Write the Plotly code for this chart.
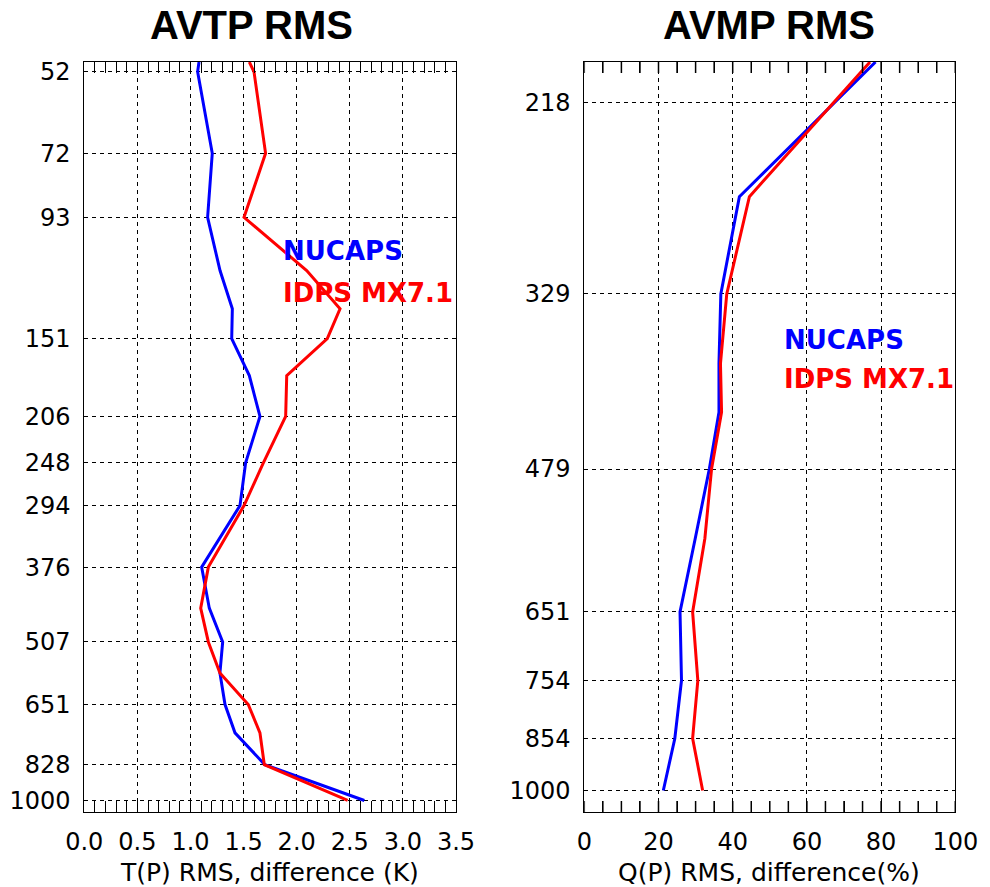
import plotly.graph_objects as go

# ---------------- data ----------------
# AVTP (temperature) panel
p_t = [50, 52, 72, 93, 115, 134, 151, 175, 206, 248, 294, 376, 443, 507, 574, 651, 729, 828, 955]
t_nucaps = [1.08, 1.067, 1.205, 1.161, 1.278, 1.394, 1.388, 1.554, 1.654, 1.519, 1.466,
            1.105, 1.177, 1.303, 1.277, 1.325, 1.419, 1.70, 2.637]
t_idps = [1.554, 1.598, 1.707, 1.504, 2.094, 2.408, 2.288, 1.906, 1.896, 1.686, 1.504,
          1.168, 1.096, 1.168, 1.277, 1.544, 1.654, 1.695, 2.48]
t_tickvals = [52, 72, 93, 151, 206, 248, 294, 376, 507, 651, 828, 955]
t_ticktext = ["52", "72", "93", "151", "206", "248", "294", "376", "507", "651", "828", "1000"]

# AVMP (moisture) panel
p_q = [200, 267, 329, 382, 424, 479, 556, 651, 754, 854, 955]
q_nucaps = [78.5, 41.8, 36.8, 36.3, 36.3, 33.7, 29.9, 25.8, 26.2, 24.4, 21.3]
q_idps = [77.0, 44.5, 38.4, 36.7, 37.0, 34.3, 32.5, 29.2, 30.6, 29.2, 31.9]
q_tickvals = [218, 329, 479, 651, 754, 854, 955]
q_ticktext = ["218", "329", "479", "651", "754", "854", "1000"]

titles = ["AVTP RMS", "AVMP RMS"]
xtitles = ["T(P) RMS, difference (K)", "Q(P) RMS, difference(%)"]
series_names = ["NUCAPS", "IDPS MX7.1"]

# ---------------- figure ----------------
W, H = 990, 887
BLUE, RED = "#0000ff", "#ff0000"
TICKFONT = dict(family="DejaVu Sans", size=24, color="black")
TICKLEN = 11
PLOT_TOP, PLOT_BOTTOM = 62, 812
T_RANGE = [3, 1.69897]
Q_RANGE = [3, 2.30103]


def px(x):
    return x / W


def py(y):
    return 1 - y / H


def tick_grid(rng, step, minor_step, fmt):
    n = int(round((rng[1] - rng[0]) / minor_step))
    vals = [rng[0] + i * minor_step for i in range(n + 1)]
    texts = []
    for v in vals:
        k = v / step
        texts.append(fmt.format(v) if abs(k - round(k)) < 1e-6 else "")
    return vals, texts


def frame_ticks(xvals, yrange):
    """Short tick segments at the top and bottom frame, in data units of a log y axis."""
    dec = (yrange[0] - yrange[1]) * TICKLEN / (PLOT_BOTTOM - PLOT_TOP)
    p_low, p_high = 10 ** yrange[0], 10 ** yrange[1]
    tx, ty = [], []
    for v in xvals:
        tx += [v, v, None, v, v, None]
        ty += [p_low, p_low / 10 ** dec, None, p_high, p_high * 10 ** dec, None]
    return tx, ty


fig = go.Figure()
fig.add_trace(go.Scatter(x=t_nucaps, y=p_t, mode="lines", line=dict(color=BLUE, width=3),
                         xaxis="x", yaxis="y", name=series_names[0]))
fig.add_trace(go.Scatter(x=t_idps, y=p_t, mode="lines", line=dict(color=RED, width=3),
                         xaxis="x", yaxis="y", name=series_names[1]))
fig.add_trace(go.Scatter(x=q_nucaps, y=p_q, mode="lines", line=dict(color=BLUE, width=3),
                         xaxis="x2", yaxis="y2", name=series_names[0]))
fig.add_trace(go.Scatter(x=q_idps, y=p_q, mode="lines", line=dict(color=RED, width=3),
                         xaxis="x2", yaxis="y2", name=series_names[1]))

# tick marks of the right panel frame, placed through the x2/y2 scales
q_minor_vals, _ = tick_grid([0, 100], 20, 5, "{:.0f}")
tx, ty = frame_ticks(q_minor_vals, Q_RANGE)
fig.add_trace(go.Scatter(x=tx, y=ty, mode="lines", line=dict(color="black", width=1.5),
                         xaxis="x2", yaxis="y2", hoverinfo="skip", showlegend=False,
                         connectgaps=False))

ydom = [py(PLOT_BOTTOM), py(PLOT_TOP)]
xdom1 = [px(84.3), px(456)]
xdom2 = [px(584.3), px(955.3)]


def xaxis_cfg(dom, rng, step, minor_step, anchor, fmt):
    # tick marks at every minor step, labels and dashed grid only at the major steps
    vals, texts = tick_grid(rng, step, minor_step, fmt)
    gvals = [v for v, t in zip(vals, texts) if t]
    return dict(domain=dom, range=rng, anchor=anchor, tickmode="array", tickvals=vals,
                ticktext=texts, showline=True, linecolor="black", linewidth=1,
                mirror="allticks", ticks="inside", ticklen=TICKLEN, tickcolor="black",
                tickwidth=1, showgrid=False, zeroline=False, tickfont=TICKFONT,
                ticklabelstandoff=8, automargin=False, tickangle=0,
                minor=dict(tickmode="array", tickvals=gvals, showgrid=True, gridcolor="black",
                           gridwidth=1, griddash="4px,4px", ticks=""))


common_y = dict(type="log", showline=True, linecolor="black", linewidth=1, mirror=True,
                ticks="", showgrid=True, gridcolor="black", gridwidth=1, griddash="4px,4px",
                zeroline=False, tickfont=TICKFONT, ticklabelstandoff=8, automargin=False)

fig.update_layout(
    width=W, height=H, margin=dict(l=0, r=0, t=0, b=0),
    paper_bgcolor="white", plot_bgcolor="white", showlegend=False,
    xaxis=xaxis_cfg(xdom1, [0, 3.5], 0.5, 0.1, "y", "{:.1f}"),
    yaxis=dict(domain=ydom, range=T_RANGE, anchor="x",
               tickvals=t_tickvals, ticktext=t_ticktext, **common_y),
    xaxis2=xaxis_cfg(xdom2, [0, 100], 20, 5, "y2", "{:.0f}"),
    yaxis2=dict(domain=ydom, range=Q_RANGE, anchor="x2",
                tickvals=q_tickvals, ticktext=q_ticktext, **common_y),
)

ann = []
ann.append(dict(x=px(251), y=py(25), text=f"<b>{titles[0]}</b>"))
ann.append(dict(x=px(769), y=py(25), text=f"<b>{titles[1]}</b>"))
for a in ann:
    a.update(xref="paper", yref="paper", showarrow=False, xanchor="center", yanchor="middle",
             font=dict(family="Liberation Sans", size=40, color="black"))
for xc, t in zip([269, 769], xtitles):
    ann.append(dict(x=px(xc), y=py(872), xref="paper", yref="paper", text=t,
                    showarrow=False, xanchor="center", yanchor="middle",
                    font=dict(family="DejaVu Sans", size=25, color="black")))
for xl, yn, yi in [(281, 251, 292.5), (781.7, 340, 379)]:
    ann.append(dict(x=px(xl), y=py(yn), xref="paper", yref="paper",
                    text=f"<b>{series_names[0]}</b>", showarrow=False,
                    xanchor="left", yanchor="middle",
                    font=dict(family="DejaVu Sans", size=26, color=BLUE)))
    ann.append(dict(x=px(xl), y=py(yi), xref="paper", yref="paper",
                    text=f"<b>{series_names[1]}</b>", showarrow=False,
                    xanchor="left", yanchor="middle",
                    font=dict(family="DejaVu Sans", size=26, color=RED)))
fig.update_layout(annotations=ann)

fig.write_html("out.html")
